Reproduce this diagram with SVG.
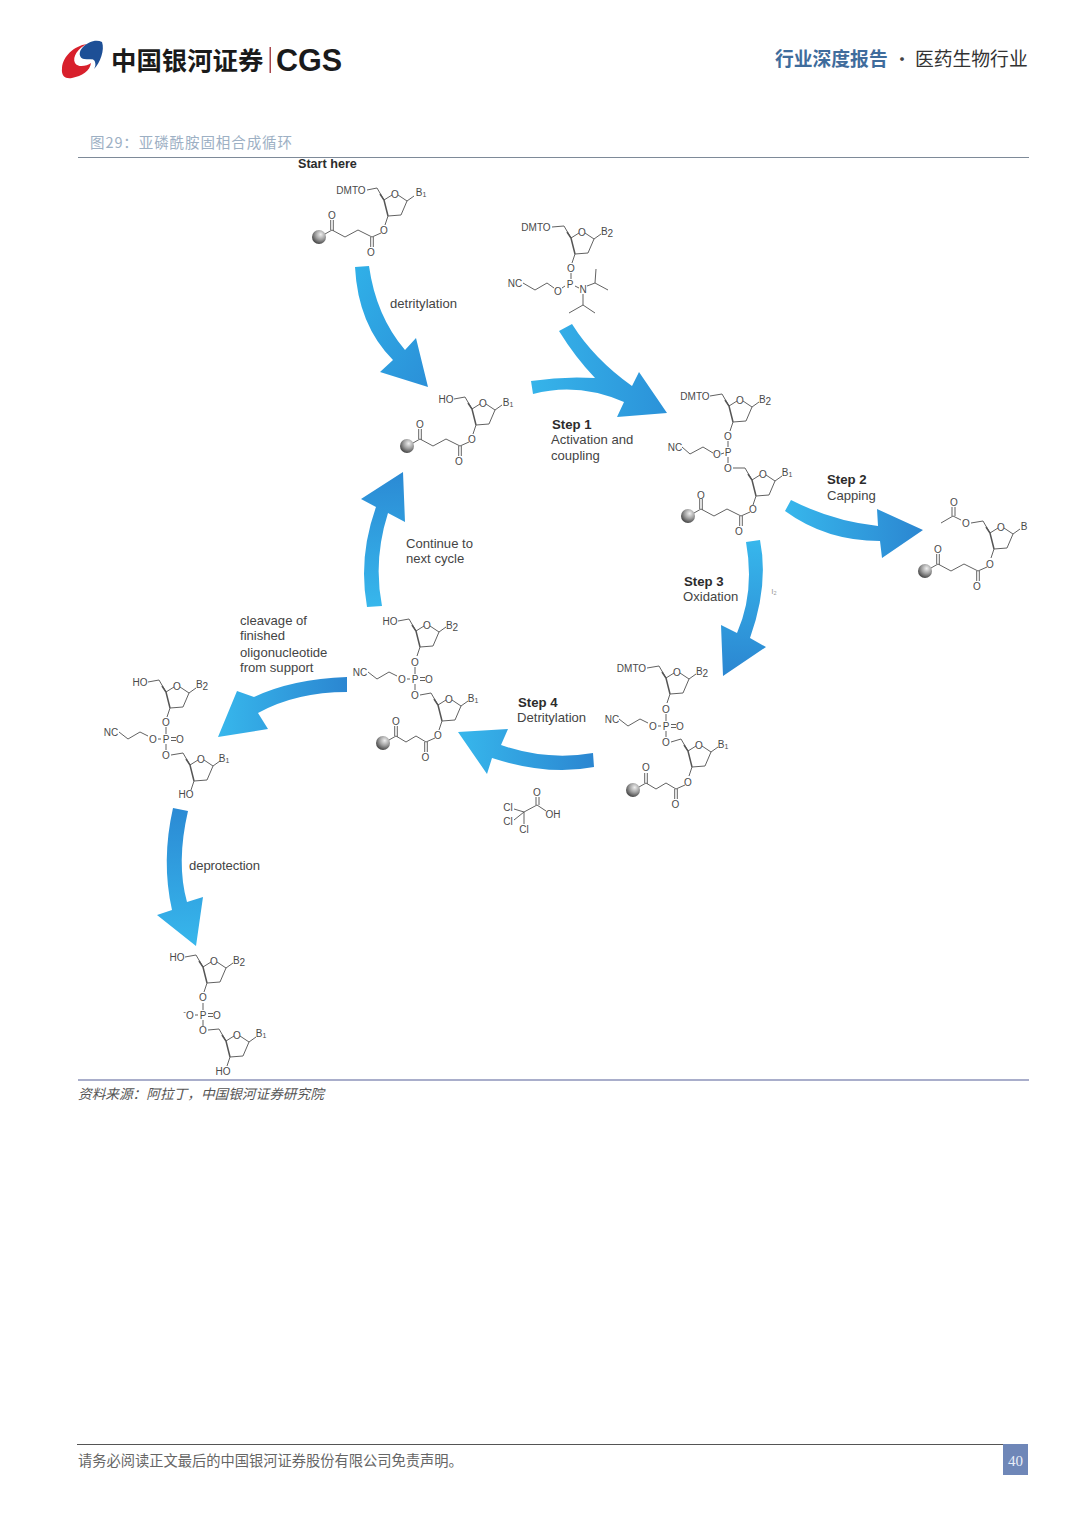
<svg xmlns="http://www.w3.org/2000/svg" width="1080" height="1526" viewBox="0 0 1080 1526">
<style>
.cjk{font-family:"Noto Sans CJK SC","Noto Sans",sans-serif}
.lb{font-family:"Liberation Sans",Arial,sans-serif;font-size:13.1px;fill:#444}
.st{font-family:"Liberation Sans",Arial,sans-serif;font-size:13.2px;font-weight:bold;fill:#2c2c2c}
.a{font-family:"Liberation Sans",Arial,sans-serif;font-size:10px;fill:#4a4a4a;text-anchor:middle;dominant-baseline:central}
.a tspan{font-size:7px}
.b{fill:none;stroke:#5a5a5a;stroke-width:.95;stroke-linejoin:round}
.w{fill:none;stroke:#555;stroke-width:1.5}
</style>
<defs>
<linearGradient id="gH" x1="0" y1="0" x2="1" y2="0"><stop offset="0" stop-color="#37b7ec"/><stop offset="1" stop-color="#2b86d1"/></linearGradient>
<linearGradient id="gS" x1="0" y1="0" x2="1" y2="0"><stop offset="0" stop-color="#36b4ea"/><stop offset="1" stop-color="#2b92d9"/></linearGradient>
<linearGradient id="gV" x1="0" y1="0" x2="0" y2="1"><stop offset="0" stop-color="#37b7ec"/><stop offset="1" stop-color="#2b86d1"/></linearGradient>
<linearGradient id="gU" x1="0" y1="0" x2="0" y2="1"><stop offset="0" stop-color="#2b8ad4"/><stop offset="1" stop-color="#37b7ec"/></linearGradient>
<linearGradient id="gD" x1="0" y1="0" x2="1" y2="1"><stop offset="0" stop-color="#30b0e8"/><stop offset="1" stop-color="#2b90d8"/></linearGradient>
<radialGradient id="bead" cx=".62" cy=".32" r=".72"><stop offset="0" stop-color="#efefef"/><stop offset=".5" stop-color="#a0a0a0"/><stop offset="1" stop-color="#3f3f3f"/></radialGradient>
<g id="ring"><path class="b" d="M-18,-6L-11,6L-3,1M3,1L12,7L6,21L-7,22M12,7L19,2M-7,22L-10,31"/><path class="w" d="M-15,0L-11,6L-7,22"/></g>
<g id="suc"><path class="b" d="M-3,3L-12,7L-26,0L-39,7L-52,0L-59,4M-53.3,0V-10M-50.700,1V-10M-13.300,7V17M-10.700,7V17"/><circle cx="-65" cy="7" r="7" fill="url(#bead)"/></g>
<g id="sucs"><path class="b" d="M-3,3L-12,7L-22,1L-32,7L-42,1L-49,5M-43.300,1V-9M-40.700,2V-9M-13.300,7V17M-10.700,7V17"/><circle cx="-55" cy="8" r="7" fill="url(#bead)"/></g>
<path id="po" class="b" d="M0,-12V-5M0,5V11M-8,0H-5M5,-1.5H10M5,1.5H10"/>
<path id="chain" class="b" d="M-47,-7L-38,0L-26,-7L-18,-3"/>
</defs>

<g id="header">
<path d="M87,44C74,46 63,56 62,68C61,77 66,79 72,78C82,76 90,71 91,63C87,66 78,68 75,63C72,57 78,48 87,44Z" fill="#d8202c"/>
<path d="M102,42C96,39 88,42 83,47C78,52 79,58 84,59C90,60 94,58 95,62C96,65 95,67 94,69C100,63 105,50 102,42Z" fill="#1d4f96"/>
<text class="cjk" x="111" y="69.500" font-size="25.400" font-weight="700" fill="#1a1a1a">中国银河证券</text>
<rect x="269.500" y="47" width="1.500" height="26" fill="#a8474e"/>
<text x="276" y="71" font-family="'Liberation Sans',Arial,sans-serif" font-size="30.500" font-weight="700" fill="#1a1a1a">CGS</text>
<text class="cjk" x="775" y="66" font-size="18.800" font-weight="700" fill="#3f6c9c">行业深度报告</text>
<text class="cjk" x="902" y="66" font-size="18" fill="#444" text-anchor="middle">·</text>
<text class="cjk" x="915" y="66" font-size="18.800" fill="#333">医药生物行业</text>
</g>

<g id="caption">
<text class="cjk" x="90" y="148" font-size="14.500" fill="#9db0c4" textLength="202" lengthAdjust="spacing">图29：亚磷酰胺固相合成循环</text>
<rect x="78" y="157" width="951" height="1" fill="#7e8a98"/>
</g>

<g id="connectors">
<path id="arrow-detritylation" fill="url(#gD)" d="M355,267Q358,325 393,360L380,372L428,387L416,338L405,350Q376,316 369,266Z"/>
<path id="arrow-step1" fill="url(#gS)" d="M559,331Q575,357 595,378Q563,376 531,381L533,394Q578,382 624,402L617,417L667,413L639,372L632,386Q594,359 572,324Z"/>
<path id="arrow-step2" fill="url(#gH)" d="M791,500Q832,521 878,526L877,509L923,530L882,558L880,541Q826,541 785,511Z"/>
<path id="arrow-step3" fill="url(#gV)" d="M746,542Q755,592 737,633L721,625L723,676L766,647L750,638Q769,585 760,540Z"/>
<path id="arrow-step4" fill="url(#gH)" d="M593,753Q547,761 501,745L508,729L458,732L487,774L492,758Q548,776 594,767Z"/>
<path id="arrow-continue" fill="url(#gU)" d="M367,607Q358,557 376,507L361,499L403,472L405,522L388,513Q373,560 382,606Z"/>
<path id="arrow-cleavage" fill="url(#gH)" d="M347,677Q292,679 254,697L237,691L218,737L268,729L258,713Q296,692 347,692Z"/>
<path id="arrow-deprotection" fill="url(#gU)" d="M173,808Q161,861 172,910L157,915L196,946L203,897L187,902Q176,863 188,811Z"/>
</g>

<g id="labels">
<text class="st" x="298" y="167.500" style="font-size:12.600px">Start here</text>
<text class="lb" x="390" y="307.500">detritylation</text>
<text class="st" x="552" y="428.500">Step 1</text>
<text class="lb" x="551" y="444">Activation and</text>
<text class="lb" x="551" y="459.500">coupling</text>
<text class="st" x="827" y="483.500">Step 2</text>
<text class="lb" x="827" y="500">Capping</text>
<text class="st" x="684" y="585.500">Step 3</text>
<text class="lb" x="683" y="601">Oxidation</text>
<text class="st" x="518" y="706.500">Step 4</text>
<text class="lb" x="517" y="722">Detritylation</text>
<text class="lb" x="406" y="548">Continue to</text>
<text class="lb" x="406" y="563">next cycle</text>
<text class="lb" x="240" y="624.500">cleavage of</text>
<text class="lb" x="240" y="640">finished</text>
<text class="lb" x="240" y="656.500">oligonucleotide</text>
<text class="lb" x="240" y="672">from support</text>
<text class="lb" x="189" y="869.500" textLength="71">deprotection</text>
<text class="a" x="774" y="591" style="font-size:8px;fill:#999">I<tspan dy="2" style="font-size:5.500px">2</tspan></text>
</g>

<g id="mol-start">
<use href="#ring" x="395" y="194"/><use href="#suc" x="384" y="230"/>
<path class="b" d="M367,190L377,188"/>
<text class="a" x="351" y="190">DMTO</text><text class="a" x="395" y="194">O</text><text class="a" x="421" y="192">B<tspan dy="2">1</tspan></text>
<text class="a" x="384" y="230">O</text><text class="a" x="371" y="252">O</text><text class="a" x="332" y="215">O</text>
</g>

<g id="mol-phosphoramidite">
<use href="#ring" x="582" y="232"/>
<path class="b" d="M552,227L564,226M571,273V279M565,286L562,288M523,283L535,290L547,283L554,288M575,286L579,288M587,286L595,283L596,269M595,283L608,290M583,294V305L569,313M583,305L595,313"/>
<text class="a" x="536" y="227">DMTO</text><text class="a" x="582" y="232">O</text><text class="a" x="607" y="231">B<tspan dy="2" style="font-size:10px">2</tspan></text>
<text class="a" x="571" y="268">O</text><text class="a" x="570" y="284">P</text><text class="a" x="558" y="291">O</text><text class="a" x="515" y="283">NC</text><text class="a" x="583" y="289">N</text>
</g>

<g id="mol-detritylated">
<use href="#ring" x="483" y="403"/><use href="#suc" x="472" y="439"/>
<path class="b" d="M454,399L465,397"/>
<text class="a" x="446" y="399">HO</text><text class="a" x="483" y="403">O</text><text class="a" x="508" y="402">B<tspan dy="2">1</tspan></text>
<text class="a" x="472" y="439">O</text><text class="a" x="459" y="461">O</text><text class="a" x="420" y="424">O</text>
</g>

<g id="mol-coupled">
<use href="#ring" x="740" y="400"/><use href="#ring" x="763" y="474"/><use href="#suc" x="753" y="509"/>
<path class="b" d="M710,396L722,394M728,441V447M728,457V463M721,454L724,453M682,447L690,454L703,447L713,453M733,468H745"/>
<text class="a" x="695" y="396">DMTO</text><text class="a" x="740" y="400">O</text><text class="a" x="765" y="399">B<tspan dy="2" style="font-size:10px">2</tspan></text>
<text class="a" x="728" y="436">O</text><text class="a" x="728" y="452">P</text><text class="a" x="717" y="454">O</text><text class="a" x="675" y="447">NC</text><text class="a" x="728" y="468">O</text>
<text class="a" x="763" y="474">O</text><text class="a" x="787" y="472">B<tspan dy="2">1</tspan></text>
<text class="a" x="753" y="509">O</text><text class="a" x="739" y="531">O</text><text class="a" x="701" y="495">O</text>
</g>

<g id="mol-capped">
<use href="#ring" x="1001" y="527"/><use href="#suc" x="990" y="564"/>
<path class="b" d="M971,523L983,521M961,520L953,516L941,523M952,516V507M955,516V507"/>
<text class="a" x="954" y="502">O</text><text class="a" x="966" y="523">O</text><text class="a" x="1001" y="527">O</text><text class="a" x="1024" y="526">B</text>
<text class="a" x="990" y="564">O</text><text class="a" x="977" y="586">O</text><text class="a" x="938" y="549">O</text>
</g>

<g id="mol-oxidized">
<use href="#ring" x="677" y="672"/><use href="#ring" x="699" y="745"/><use href="#sucs" x="688" y="782"/>
<use href="#po" x="666" y="726"/><use href="#chain" x="666" y="726"/>
<path class="b" d="M647,668L659,666M671,742L681,739"/>
<text class="a" x="631.500" y="668">DMTO</text><text class="a" x="677" y="672">O</text><text class="a" x="702" y="671">B<tspan dy="2" style="font-size:10px">2</tspan></text>
<text class="a" x="666" y="709">O</text><text class="a" x="666" y="726">P</text><text class="a" x="653" y="726">O</text><text class="a" x="680" y="726">O</text><text class="a" x="612" y="719">NC</text><text class="a" x="666" y="742">O</text>
<text class="a" x="699" y="745">O</text><text class="a" x="723" y="744">B<tspan dy="2">1</tspan></text>
<text class="a" x="688" y="782">O</text><text class="a" x="675.500" y="804">O</text><text class="a" x="646" y="767">O</text>
</g>

<g id="mol-tca">
<path class="b" d="M514,809L524,812M514,820L524,812M524,824V812L537,805M536,805V797M539,805V797M537,805L546,811"/>
<text class="a" x="508" y="807">Cl</text><text class="a" x="508" y="821">Cl</text><text class="a" x="524" y="829">Cl</text><text class="a" x="537" y="792">O</text><text class="a" x="553" y="814">OH</text>
</g>

<g id="mol-next">
<use href="#ring" x="427" y="625"/><use href="#ring" x="449" y="699"/><use href="#sucs" x="438" y="735"/>
<use href="#po" x="415" y="679"/><use href="#chain" x="415" y="679"/>
<path class="b" d="M398,621L409,619M420,695L431,693"/>
<text class="a" x="390" y="621">HO</text><text class="a" x="427" y="625">O</text><text class="a" x="452" y="625">B<tspan dy="2" style="font-size:10px">2</tspan></text>
<text class="a" x="415" y="662">O</text><text class="a" x="415" y="679">P</text><text class="a" x="402" y="679">O</text><text class="a" x="429" y="679">O</text><text class="a" x="360" y="672">NC</text><text class="a" x="415" y="695">O</text>
<text class="a" x="449" y="699">O</text><text class="a" x="473" y="698">B<tspan dy="2">1</tspan></text>
<text class="a" x="438" y="735">O</text><text class="a" x="425.500" y="757">O</text><text class="a" x="396" y="721">O</text>
</g>

<g id="mol-cleaved">
<use href="#ring" x="177" y="686"/><use href="#ring" x="201" y="759"/>
<use href="#po" x="166" y="739"/><use href="#chain" x="166" y="739"/>
<path class="b" d="M148,682L159,680M171,755L183,753"/>
<text class="a" x="140" y="682">HO</text><text class="a" x="177" y="686">O</text><text class="a" x="202" y="684">B<tspan dy="2" style="font-size:10px">2</tspan></text>
<text class="a" x="166" y="722">O</text><text class="a" x="166" y="739">P</text><text class="a" x="153" y="739">O</text><text class="a" x="180" y="739">O</text><text class="a" x="111" y="732">NC</text><text class="a" x="166" y="755">O</text>
<text class="a" x="201" y="759">O</text><text class="a" x="224" y="758">B<tspan dy="2">1</tspan></text><text class="a" x="186" y="794">HO</text>
</g>

<g id="mol-product">
<use href="#ring" x="214" y="961"/><use href="#ring" x="237" y="1035"/>
<use href="#po" x="203" y="1015"/>
<path class="b" d="M185,957L196,955M208,1030L219,1029"/>
<text class="a" x="177" y="957">HO</text><text class="a" x="214" y="961">O</text><text class="a" x="239" y="960">B<tspan dy="2" style="font-size:10px">2</tspan></text>
<text class="a" x="203" y="997">O</text><text class="a" x="203" y="1015">P</text><text class="a" x="184.500" y="1011" style="font-size:8px">-</text><text class="a" x="190" y="1015">O</text><text class="a" x="217" y="1015">O</text><text class="a" x="203" y="1030">O</text>
<text class="a" x="237" y="1035">O</text><text class="a" x="261" y="1033">B<tspan dy="2">1</tspan></text><text class="a" x="223" y="1071">HO</text>
</g>

<g id="source">
<rect x="78" y="1079" width="951" height="2" fill="#a9aecb"/>
<text class="cjk" x="78" y="1099" font-size="13.670" font-style="italic" fill="#555">资料来源：阿拉丁，中国银河证券研究院</text>
</g>

<g id="footer">
<rect x="77" y="1444" width="951" height="1" fill="#555"/>
<text class="cjk" x="78" y="1466" font-size="14.260" fill="#666">请务必阅读正文最后的中国银河证券股份有限公司免责声明。</text>
<rect x="1003" y="1444" width="25" height="31" fill="#6f87b8"/>
<text x="1015.500" y="1466" font-family="'Liberation Serif',serif" font-size="15" fill="#e8eef8" text-anchor="middle">40</text>
</g>
</svg>
